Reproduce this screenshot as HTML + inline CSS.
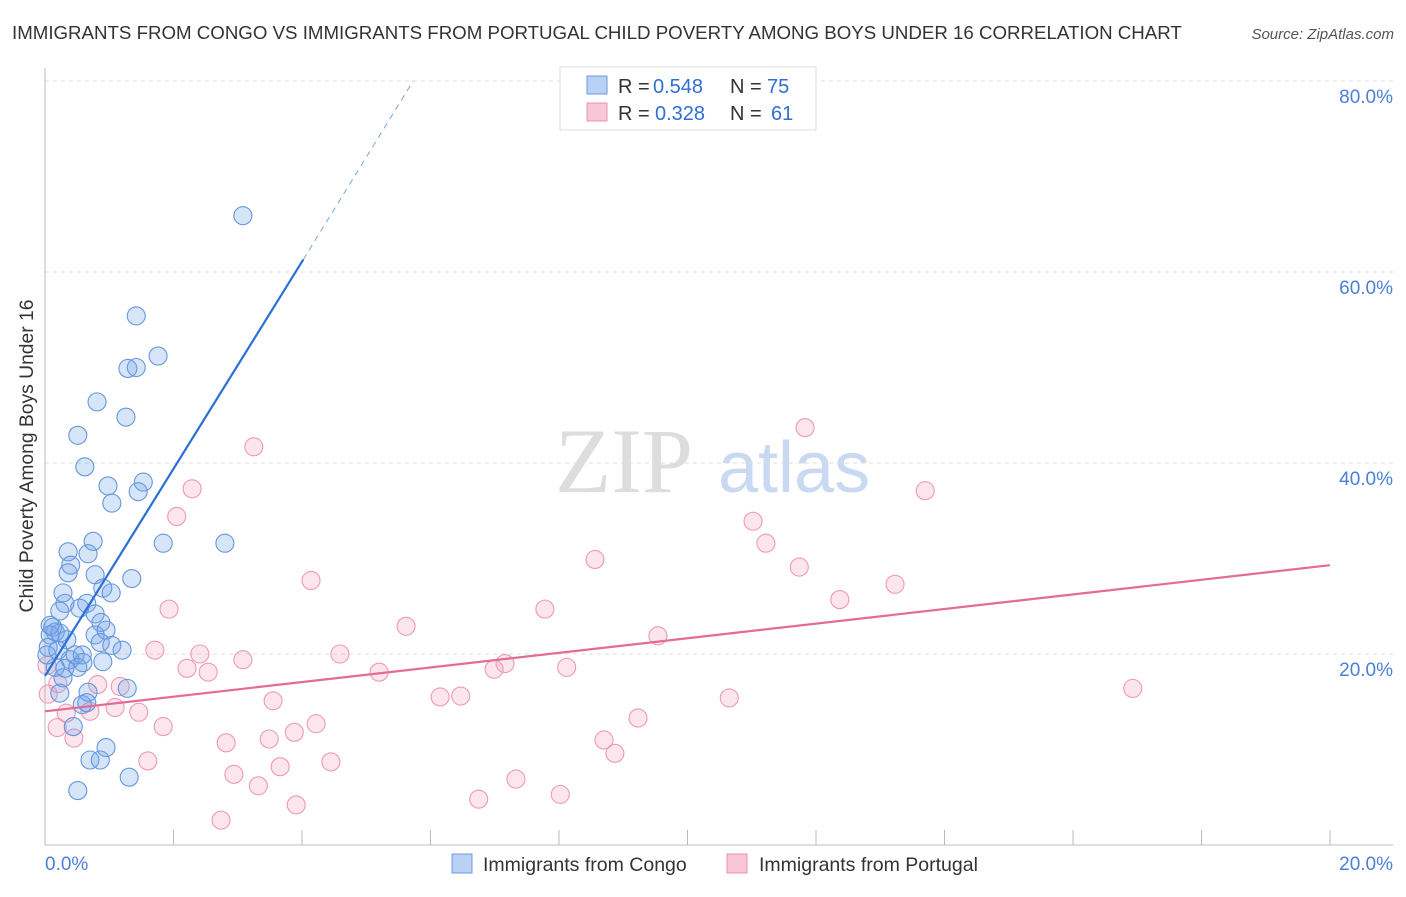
<!DOCTYPE html>
<html><head><meta charset="utf-8"><style>
body{margin:0;background:#fff;font-family:"Liberation Sans",sans-serif}
</style></head><body>
<svg width="1406" height="892" viewBox="0 0 1406 892" id="chart" xmlns="http://www.w3.org/2000/svg">
<text x="12" y="39" font-size="18.7" fill="#333">IMMIGRANTS FROM CONGO VS IMMIGRANTS FROM PORTUGAL CHILD POVERTY AMONG BOYS UNDER 16 CORRELATION CHART</text>
<text x="1394" y="39" font-size="15" fill="#555" font-style="italic" text-anchor="end">Source: ZipAtlas.com</text>
<text transform="translate(33,456) rotate(-90)" font-size="19.3" fill="#333" text-anchor="middle">Child Poverty Among Boys Under 16</text>
<g><text x="555" y="492" font-size="92" fill="#ddd" font-family="Liberation Serif,serif">ZIP</text><text x="718" y="492" font-size="72" fill="#c9d9f2">atlas</text></g>
<g id="grid"></g><g id="axes"></g><g id="pts"></g><g id="lines"></g>
<g>
<rect x="560" y="67" width="256" height="63" fill="#fff" stroke="#ddd"/>
<rect x="587" y="76" width="20" height="18" fill="#b9d1f5" stroke="#6c9be0"/>
<rect x="587" y="103" width="20" height="18" fill="#f9c6d6" stroke="#ea92ae"/>
<text x="618" y="93" font-size="20" fill="#333">R =</text><text x="653" y="93" font-size="20" fill="#2f6fd4">0.548</text>
<text x="730" y="93" font-size="20" fill="#333">N =</text><text x="767" y="93" font-size="20" fill="#2f6fd4">75</text>
<text x="618" y="120" font-size="20" fill="#333">R =</text><text x="655" y="120" font-size="20" fill="#2f6fd4">0.328</text>
<text x="730" y="120" font-size="20" fill="#333">N =</text><text x="771" y="120" font-size="20" fill="#2f6fd4">61</text>
</g>
<g>
<rect x="452" y="854" width="20" height="19" fill="#b9d1f5" stroke="#6c9be0"/>
<text x="483" y="871" font-size="19.5" fill="#333">Immigrants from Congo</text>
<rect x="727" y="854" width="20" height="19" fill="#f9c6d6" stroke="#ea92ae"/>
<text x="759" y="871" font-size="19.5" fill="#333">Immigrants from Portugal</text>
</g>
</svg>
<script>
const congoX=[3.08,1.42,1.76,1.29,1.42,0.81,1.26,0.51,0.62,1.53,0.98,1.45,1.04,1.84,2.80,0.75,0.36,0.67,0.40,0.36,0.78,1.35,0.90,1.03,0.28,0.31,0.65,0.23,0.54,0.78,0.87,0.12,0.16,0.08,0.23,0.78,0.95,0.34,0.86,1.04,1.20,0.05,0.20,0.47,0.58,0.39,0.31,0.51,0.59,0.90,0.16,0.28,0.23,0.67,1.28,0.58,0.65,0.44,0.95,0.70,0.86,1.31,0.51,0.03,0.08];
const congoY=[65.9,55.4,51.2,49.9,50.0,46.4,44.8,42.9,39.6,38.0,37.6,37.0,35.8,31.6,31.6,31.8,30.7,30.5,29.3,28.5,28.3,27.9,26.9,26.4,26.4,25.3,25.3,24.5,24.8,24.2,23.3,22.8,22.3,22.0,22.2,22.0,22.5,21.5,21.2,20.9,20.4,20.7,20.4,19.9,19.9,19.4,18.5,18.6,19.1,19.2,18.6,17.5,15.9,16.0,16.4,14.7,14.9,12.4,10.2,8.9,8.9,7.1,5.7,19.9,23.0];
const portX=[11.83,3.25,13.70,2.29,2.05,11.02,11.22,8.56,11.74,4.14,13.23,12.37,7.78,1.93,5.62,9.54,1.71,2.41,4.59,3.08,7.16,6.99,8.12,2.21,2.54,5.20,16.93,1.17,0.82,0.20,6.15,6.47,10.65,3.55,1.09,0.70,1.46,0.33,9.23,4.22,1.84,0.19,3.88,0.45,3.49,2.82,8.70,8.87,1.60,4.45,3.66,2.94,7.33,3.32,8.02,6.75,3.91,2.74,0.03,0.05];
const portY=[43.7,41.7,37.1,37.3,34.4,33.9,31.6,29.9,29.1,27.7,27.3,25.7,24.7,24.7,22.9,21.9,20.4,20.0,20.0,19.4,19.0,18.4,18.6,18.5,18.1,18.1,16.4,16.6,16.8,16.9,15.5,15.6,15.4,15.1,14.4,14.0,13.9,13.8,13.3,12.7,12.4,12.3,11.8,11.2,11.1,10.7,11.0,9.6,8.8,8.7,8.2,7.4,6.9,6.2,5.3,4.8,4.2,2.6,18.8,15.8];
const congoTrendX=[0,4.02,5.73];
const congoTrendY=[17.7,61.3,80];
const portTrendX=[0,20];
const portTrendY=[14.0,29.3];
const yTicks=[20,40,60,80];
const yTickLabels=["20.0%","40.0%","60.0%","80.0%"];
const xTicks=[0,2,4,6,8,10,12,14,16,18,20];
const NS="http://www.w3.org/2000/svg";
const sx=v=>45+v*64.25, sy=v=>845-v*9.55;
function mk(t,a,p){const e=document.createElementNS(NS,t);for(const k in a)e.setAttribute(k,a[k]);p.appendChild(e);return e;}
const grid=document.getElementById('grid'),axes=document.getElementById('axes');
yTicks.forEach((v,i)=>{
 const l=mk('line',{x1:45,x2:1393,y1:sy(v),y2:sy(v),stroke:'#ddd','stroke-dasharray':'4,4'},grid);
 
 
 const t=mk('text',{x:1393,y:sy(v)+22,'font-size':19,fill:'#4a80d8','text-anchor':'end'},axes);
 t.textContent=yTickLabels[i];
 
 
});
mk('line',{x1:45,x2:45,y1:68,y2:845,stroke:'#bbb'},axes);
mk('line',{x1:45,x2:1393,y1:845,y2:845,stroke:'#bbb'},axes);
xTicks.forEach(v=>{const l=mk('line',{x1:sx(v),x2:sx(v),y1:845,y2:830,stroke:'#bbb'},axes);
 
 });
let t0=mk('text',{x:45,y:870,'font-size':19,fill:'#4a80d8'},axes);t0.textContent='0.0%';


let t1=mk('text',{x:1393,y:870,'font-size':19,fill:'#4a80d8','text-anchor':'end'},axes);t1.textContent='20.0%';


const pts=document.getElementById('pts');
portX.forEach((x,i)=>{const c=mk('circle',{cx:sx(x),cy:sy(portY[i]),r:9,fill:'rgba(244,160,188,0.28)',stroke:'#ee9ab5','stroke-width':1.1},pts);
 
 });
congoX.forEach((x,i)=>{const c=mk('circle',{cx:sx(x),cy:sy(congoY[i]),r:9,fill:'rgba(110,160,235,0.28)',stroke:'#6696dd','stroke-width':1.1},pts);
 
 });
const lines=document.getElementById('lines');
let b1=mk('line',{x1:sx(congoTrendX[0]),y1:sy(congoTrendY[0]),x2:sx(congoTrendX[1]),y2:sy(congoTrendY[1]),stroke:'#2a6fd6','stroke-width':2.2},lines);


let b2=mk('line',{x1:sx(congoTrendX[1]),y1:sy(congoTrendY[1]),x2:sx(congoTrendX[2]),y2:sy(congoTrendY[2]),stroke:'#7aa3e0','stroke-width':1,'stroke-dasharray':'6,5'},lines);


let p1=mk('line',{x1:sx(portTrendX[0]),y1:sy(portTrendY[0]),x2:sx(portTrendX[1]),y2:sy(portTrendY[1]),stroke:'#e46a98','stroke-width':2.2},lines);


</script>
</body></html>
